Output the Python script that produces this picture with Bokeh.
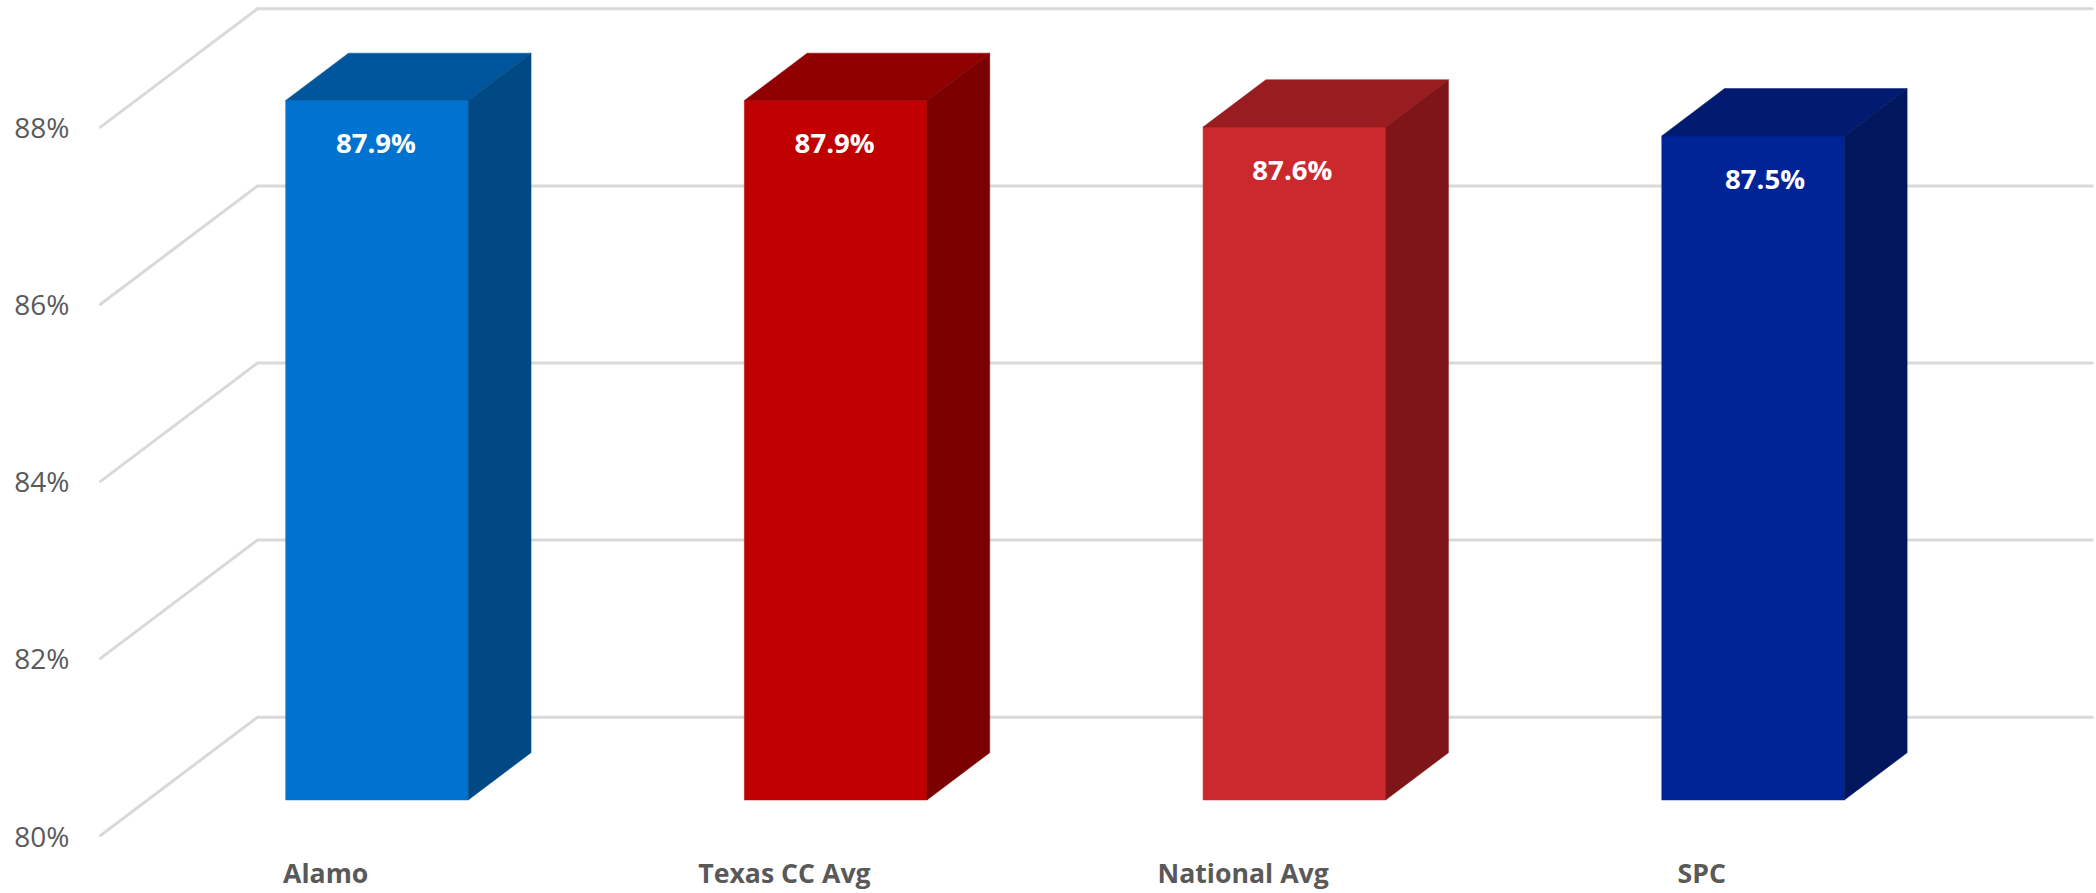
from bokeh.plotting import figure
from bokeh.models import FixedTicker, PrintfTickFormatter, ColumnDataSource
from bokeh.core.properties import value
from bokeh.embed import file_html
from bokeh.resources import INLINE

categories = ["Alamo", "Texas CC Avg", "National Avg", "SPC"]
values = [87.9, 87.9, 87.6, 87.5]
labels = ["87.9%", "87.9%", "87.6%", "87.5%"]
y_ticks = [80, 82, 84, 86, 88]
front_colors = ["#0072D0", "#C00000", "#CB292E", "#002395"]
top_colors = ["#00569D", "#900000", "#981C20", "#001B70"]
side_colors = ["#004985", "#7B0000", "#7E1619", "#00175E"]
label_shift_px = [-1, -1, -2, 12]

SLOT_PX = 458.7
PCT_PX = 88.65
DEPTH_X = 157.0 / SLOT_PX
DEPTH_Y = 118.5 / PCT_PX
BAR_W = 0.398
Z0, Z1 = 0.3, 0.7
FONT = "Open Sans"
GREY = "#595959"
GRID = "#D9D9D9"
BASE = y_ticks[0]


def proj(x, y, z):
    return x + z * DEPTH_X, y + z * DEPTH_Y


p = figure(width=2096, height=893, output_backend="svg", toolbar_location=None,
           x_range=(-8 / SLOT_PX, 1996 / SLOT_PX),
           y_range=(BASE - 13 / PCT_PX, BASE + 836 / PCT_PX),
           min_border_left=92, min_border_right=0, min_border_top=0, min_border_bottom=44)
p.outline_line_color = None
p.grid.visible = False
p.background_fill_color = "white"

n = len(categories)
for t in y_ticks:
    xs, ys = zip(proj(0, t, 0), proj(0, t, 1), proj(n, t, 1))
    p.line(list(xs), list(ys), line_color=GRID, line_width=3, line_join="round", line_cap="round")

for i, (v, fc, tc, sc) in enumerate(zip(values, front_colors, top_colors, side_colors)):
    l = i + 0.5 - BAR_W / 2
    r = i + 0.5 + BAR_W / 2
    faces = [
        ([(l, BASE, Z0), (r, BASE, Z0), (r, v, Z0), (l, v, Z0)], fc),
        ([(l, v, Z0), (r, v, Z0), (r, v, Z1), (l, v, Z1)], tc),
        ([(r, BASE, Z0), (r, BASE, Z1), (r, v, Z1), (r, v, Z0)], sc),
    ]
    for pts, col in faces:
        q = [proj(*a) for a in pts]
        p.patch([c[0] for c in q], [c[1] for c in q], fill_color=col, line_color=col, line_width=0.5)

src = ColumnDataSource(dict(
    x=[proj(i + 0.5, v, Z0)[0] + d / SLOT_PX for i, (v, d) in enumerate(zip(values, label_shift_px))],
    y=[proj(i + 0.5, v, Z0)[1] - 42 / PCT_PX for i, v in enumerate(values)],
    t=labels))
p.text("x", "y", text="t", source=src, text_color="white", text_font=value(FONT),
       text_font_size="27.6px", text_font_style="bold", text_align="center", text_baseline="middle")

xax = p.xaxis[0]
cat_pos = [i + 0.491 for i in range(n)]
xax.ticker = FixedTicker(ticks=cat_pos)
xax.major_label_overrides = {c: s for c, s in zip(cat_pos, categories)}
xax.axis_line_color = None
xax.major_tick_line_color = None
xax.minor_tick_line_color = None
xax.major_tick_out = 0
xax.major_tick_in = 0
xax.major_label_text_font = FONT
xax.major_label_text_font_size = "26.67px"
xax.major_label_text_font_style = "bold"
xax.major_label_text_color = GREY
xax.major_label_standoff = 5

yax = p.yaxis[0]
yax.ticker = FixedTicker(ticks=y_ticks)
yax.formatter = PrintfTickFormatter(format="%d%%")
yax.axis_line_color = None
yax.major_tick_line_color = None
yax.minor_tick_line_color = None
yax.major_tick_out = 0
yax.major_tick_in = 0
yax.major_label_text_font = FONT
yax.major_label_text_font_size = "28px"
yax.major_label_text_color = GREY
yax.major_label_standoff = 23

open("out.html", "w").write(file_html(p, INLINE))
